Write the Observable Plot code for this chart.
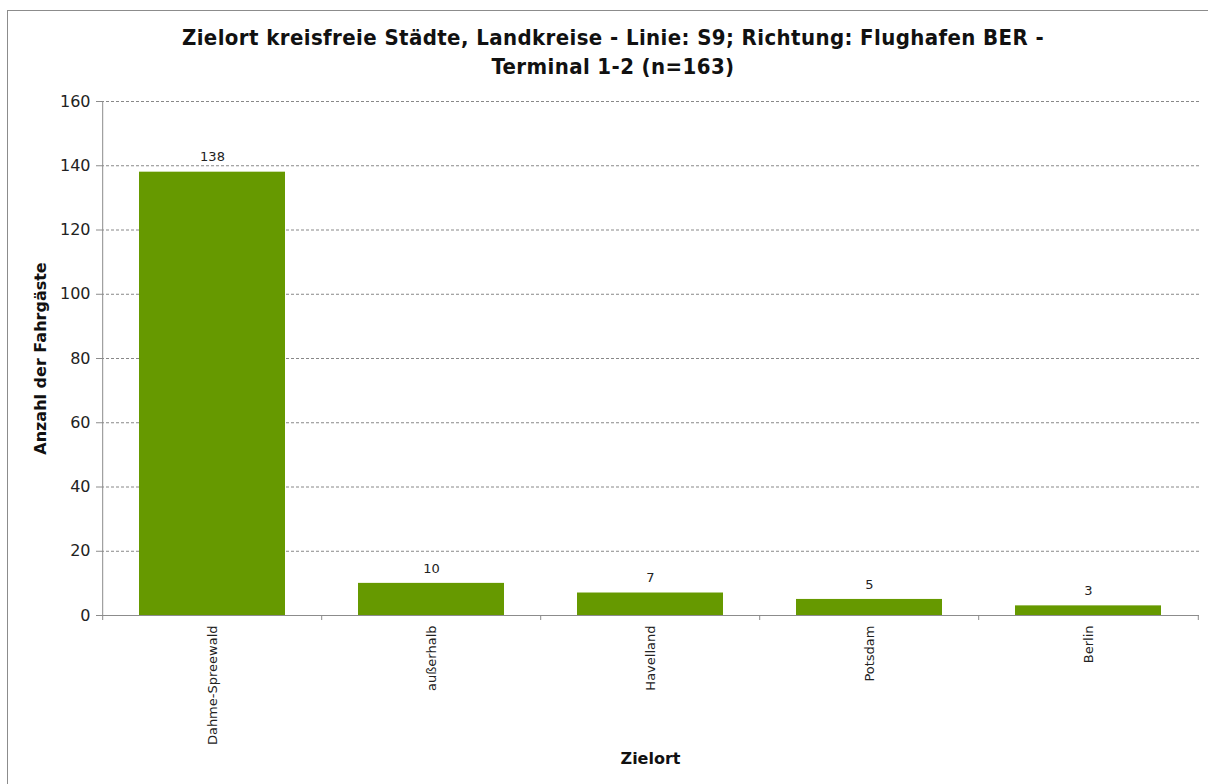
<!DOCTYPE html>
<html>
<head>
<meta charset="utf-8">
<script src="https://cdn.jsdelivr.net/npm/d3@7"></script>
<script src="https://cdn.jsdelivr.net/npm/@observablehq/plot@0.6"></script>
<style>
  html, body { margin: 0; padding: 0; background: #fff; width: 1208px; height: 784px; overflow: hidden; }
  #frame { position: absolute; left: 7px; top: 10px; width: 1300px; height: 900px; border: 1px solid #8c8c8c; }
  #title { position: absolute; left: 9px; top: 23px; width: 1208px; text-align: center;
           font-family: "DejaVu Sans Condensed", "DejaVu Sans", sans-serif; font-stretch: condensed; font-weight: bold; font-size: 22px; letter-spacing: 0.4px; line-height: 29px; color: #111; }
  #chart { position: absolute; left: 0; top: 0; }
</style>
</head>
<body>
<div id="frame"></div>
<div id="chart"></div>
<div id="title">Zielort kreisfreie Städte, Landkreise - Linie: S9; Richtung: Flughafen BER -<br>Terminal 1-2 (n=163)</div>
<script>
const categories = ["Dahme-Spreewald", "außerhalb", "Havelland", "Potsdam", "Berlin"];
const values = [138, 10, 7, 5, 3];
const yTicks = [0, 20, 40, 60, 80, 100, 120, 140, 160];
const yLabel = "Anzahl der Fahrgäste";
const xLabel = "Zielort";

const data = categories.map((c, i) => ({cat: c, val: values[i]}));

const W = 1208, H = 784, ML = 101, MR = 9, MT = 101, MB = 169;
const halfBand = (W - ML - MR) / categories.length / 2;
const axisColor = "#8c8c8c";

const chart = Plot.plot({
  width: W, height: H,
  marginTop: MT, marginBottom: MB, marginLeft: ML, marginRight: MR,
  style: {fontFamily: "DejaVu Sans, sans-serif", background: "transparent", color: "#222"},
  x: {domain: categories, paddingInner: 0.335, paddingOuter: 0.1675, label: null},
  y: {domain: [0, 160], label: null},
  marks: [
    Plot.gridY(yTicks, {stroke: "#888", strokeOpacity: 1, strokeDasharray: "3,2"}),
    Plot.barY(data, {x: "cat", y: "val", fill: "#669900"}),
    Plot.text(data, {x: "cat", y: "val", text: d => String(d.val), dy: -15, fontSize: 13, fill: "#222"}),
    // axis lines
    Plot.ruleY([0], {stroke: axisColor}),
    Plot.ruleX([categories[0]], {dx: -halfBand, stroke: axisColor}),
    // x ticks at category boundaries
    Plot.ruleX(categories, {x: d => d, dx: -halfBand, y1: 0, y2: 0, insetBottom: -5, stroke: axisColor}),
    Plot.ruleX([categories[categories.length - 1]], {dx: halfBand, y1: 0, y2: 0, insetBottom: -5, stroke: axisColor}),
    Plot.axisY(yTicks, {tickSize: 5, tickPadding: 6, fontSize: 16, stroke: axisColor, fill: "#222", label: null}),
    Plot.axisX({tickSize: 0, tickPadding: 10, tickRotate: -90, fontSize: 13, fill: "#222", label: null}),
    Plot.text([yLabel], {frameAnchor: "left", rotate: -90, dx: -61, textAnchor: "middle", fontWeight: "bold", fontSize: 16, fill: "#111"}),
    Plot.text([xLabel], {frameAnchor: "bottom", dy: 148, textAnchor: "middle", fontWeight: "bold", fontSize: 16, fill: "#111"})
  ]
});
document.getElementById("chart").appendChild(chart);
</script>
</body>
</html>
